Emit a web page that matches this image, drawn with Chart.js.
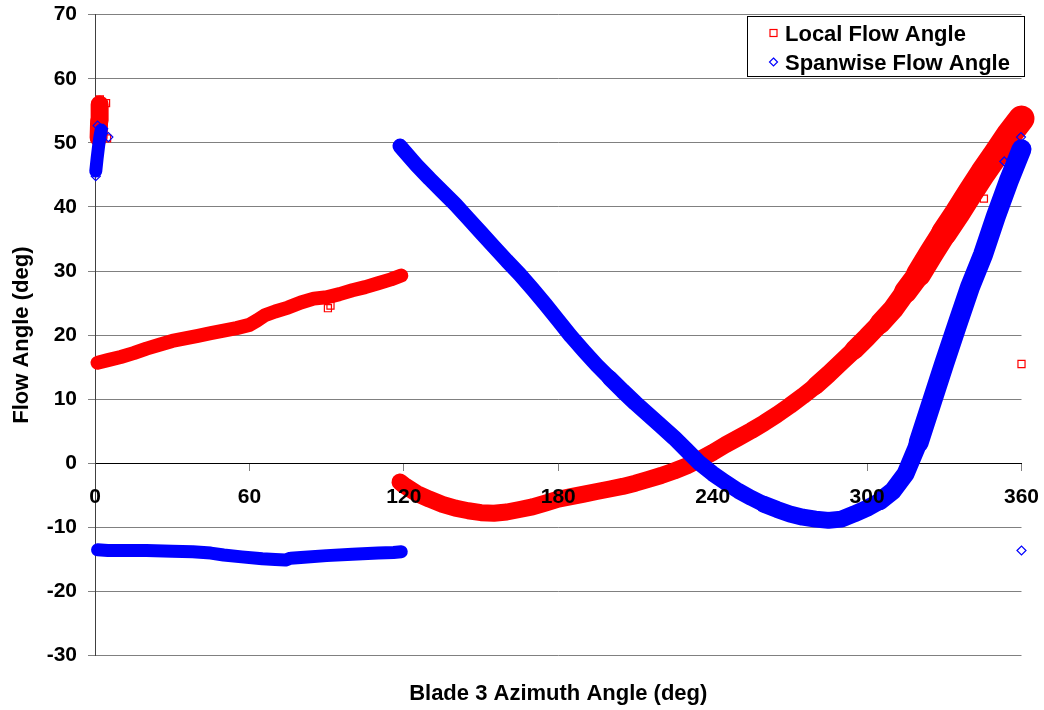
<!DOCTYPE html>
<html>
<head>
<meta charset="utf-8">
<script src="https://cdn.jsdelivr.net/npm/chart.js@4/dist/chart.umd.min.js"></script>
<style>
html,body{margin:0;padding:0;background:#fff;}
#wrap{width:1044px;height:710px;}
</style>
</head>
<body>
<div id="wrap"><canvas id="c" width="1044" height="710"></canvas></div>
<script>
// ---- axis ticks ----
const azimuthTicks = [0, 60, 120, 180, 240, 300, 360];
const angleTicks = [-30, -20, -10, 0, 10, 20, 30, 40, 50, 60, 70];

// ---- Local Flow Angle (deg) ----
const localClusterX = [1.4, 1.6, 1.8];
const localClusterY = [50.8, 53.5, 56.0];
const localRiseX = [1, 5, 10, 15, 20, 25, 30, 35, 40, 45, 50, 55, 60, 63, 66, 70, 75, 80, 85, 90, 95, 100, 105, 110, 115, 119];
const localRiseY = [15.7, 16.1, 16.6, 17.2, 17.9, 18.5, 19.1, 19.5, 19.9, 20.3, 20.7, 21.1, 21.6, 22.3, 23.1, 23.7, 24.3, 25.1, 25.7, 25.9, 26.4, 27.0, 27.5, 28.1, 28.7, 29.3];
const localDipX = [118.5, 120, 125, 130, 135, 140, 145, 150, 155, 160, 165, 170, 175, 180, 185, 190, 195, 200, 205, 210, 215, 220, 225, 230, 235, 240, 245, 250, 255, 260, 265, 270, 275, 280, 285, 290, 295, 300, 305, 310, 315, 320, 325, 330, 335, 340, 345, 350, 355, 360];
const localDipY = [-2.9, -3.4, -4.7, -5.6, -6.4, -7.0, -7.4, -7.7, -7.8, -7.6, -7.2, -6.8, -6.2, -5.6, -5.2, -4.8, -4.4, -4.0, -3.6, -3.1, -2.5, -1.9, -1.2, -0.4, 0.6, 1.7, 2.9, 4.0, 5.1, 6.3, 7.6, 9.0, 10.5, 12.1, 13.9, 15.8, 17.7, 19.7, 21.8, 24.0, 26.8, 29.5, 32.8, 36.0, 39.0, 42.2, 45.3, 48.2, 51.2, 53.8];
const localStrayX = [1.9, 4.3, 4.7, 90.5, 91.5, 345.4, 360];
const localStrayY = [56.8, 56.2, 50.7, 24.2, 24.6, 41.3, 15.5];

// ---- Spanwise Flow Angle (deg) ----
const spanClusterX = [0.3, 0.8, 1.4, 2.0, 2.4];
const spanClusterY = [45.6, 47.5, 49.5, 51.2, 52.0];
const spanFlatX = [1, 5, 10, 20, 30, 38, 45, 50, 57, 65, 70, 74, 76, 80, 90, 100, 110, 116, 119];
const spanFlatY = [-13.5, -13.6, -13.6, -13.6, -13.7, -13.8, -14.0, -14.3, -14.6, -14.9, -15.0, -15.1, -14.8, -14.7, -14.4, -14.2, -14.0, -13.9, -13.8];
const spanFallX = [118.5, 120, 125, 130, 135, 140, 145, 150, 155, 160, 165, 170, 175, 180, 185, 190, 195, 200, 205, 210, 215, 220, 225, 230, 235, 240, 245, 250, 255, 260, 265, 270, 275, 280, 285, 290, 295, 300, 305, 310, 315, 320, 325, 330, 335, 340, 345, 350, 355, 358, 360];
const spanFallY = [49.5, 48.8, 46.5, 44.4, 42.4, 40.4, 38.2, 36.0, 33.8, 31.6, 29.5, 27.2, 24.8, 22.3, 19.8, 17.5, 15.3, 13.3, 11.3, 9.4, 7.6, 5.8, 4.0, 2.0, 0.0, -1.6, -3.0, -4.3, -5.4, -6.4, -7.2, -7.9, -8.4, -8.7, -8.9, -8.7, -7.9, -7.0, -5.9, -4.3, -1.6, 3.2, 9.4, 15.6, 21.6, 27.5, 32.5, 38.5, 44.0, 47.0, 49.0];
const spanStrayX = [1.0, 3.2, 5.2, 0.3, 353.3, 359.8, 360];
const spanStrayY = [52.7, 52.2, 50.9, 44.8, 47.1, 50.9, -13.6];

const RED = '#FF0000';
const BLUE = '#0000FF';
const FONT = '"Liberation Sans", Arial, Helvetica, sans-serif';

function pts(xs, ys) { return xs.map((x, i) => ({x: x, y: ys[i]})); }

// band thickness (px) by azimuth range: [upper bound, width]
function bandWidth(steps) {
  return ctx => {
    const x = ctx.p0.parsed.x;
    for (const s of steps) { if (x < s[0]) return s[1]; }
    return steps[steps.length - 1][1];
  };
}

function band(data, color, width, order, steps) {
  const ds = {
    data: data, showLine: true, borderColor: color, backgroundColor: color,
    borderWidth: width, borderCapStyle: 'round', borderJoinStyle: 'round',
    pointRadius: 0, pointHoverRadius: 0, tension: 0, order: order, clip: false
  };
  if (steps) ds.segment = {borderWidth: bandWidth(steps)};
  return ds;
}

function markers(data, color, style, radius, order) {
  return {
    data: data, showLine: false, borderColor: color, backgroundColor: 'rgba(0,0,0,0)',
    pointStyle: style, pointRadius: radius, pointBorderWidth: 1.2, pointHoverRadius: radius,
    order: order, clip: false
  };
}

const legendPlugin = {
  id: 'boxLegend',
  afterDraw(chart) {
    const ctx = chart.ctx;
    ctx.save();
    ctx.fillStyle = '#fff';
    ctx.fillRect(747, 16, 277, 61);
    ctx.strokeStyle = '#000';
    ctx.lineWidth = 1;
    ctx.strokeRect(747.5, 16.5, 277, 60);
    ctx.strokeStyle = RED; ctx.lineWidth = 1.2;
    ctx.strokeRect(770, 29.5, 7, 7);
    ctx.strokeStyle = BLUE;
    ctx.beginPath();
    ctx.moveTo(773.5, 58); ctx.lineTo(777.5, 62); ctx.lineTo(773.5, 66); ctx.lineTo(769.5, 62); ctx.closePath();
    ctx.stroke();
    ctx.fillStyle = '#000';
    ctx.font = 'bold 22px ' + FONT;
    ctx.textBaseline = 'alphabetic';
    ctx.textAlign = 'left';
    ctx.fillText('Local Flow Angle', 785, 41);
    ctx.fillText('Spanwise Flow Angle', 785, 70);
    ctx.restore();
  }
};

const noPadX = s => { s.paddingLeft = 0; s.paddingRight = 0; };

new Chart(document.getElementById('c'), {
  type: 'scatter',
  data: {
    datasets: [
      band(pts(spanFallX, spanFallY), BLUE, 15, 0, [[200, 15], [260, 16], [305, 17], [318, 18], [1000, 20]]),
      band(pts(spanFlatX, spanFlatY), BLUE, 13, 0),
      band(pts(spanClusterX, spanClusterY), BLUE, 13, 0),
      markers(pts(spanStrayX, spanStrayY), BLUE, 'rectRot', 4.5, 0),
      band(pts(localDipX, localDipY), RED, 17, 1, [[280, 17], [295, 18], [305, 19.5], [312, 21], [320, 23], [330, 25], [1000, 26]]),
      band(pts(localRiseX, localRiseY), RED, 14, 1),
      band(pts(localClusterX, localClusterY), RED, 18, 1),
      markers(pts(localStrayX, localStrayY), RED, 'rect', 5, 1)
    ]
  },
  options: {
    responsive: false,
    animation: false,
    devicePixelRatio: 1,
    events: [],
    layout: {padding: {left: 0, right: 22.5, top: 14.7, bottom: 0}},
    plugins: {legend: {display: false}, tooltip: {enabled: false}},
    scales: {
      x: {
        type: 'linear', min: 0, max: 360,
        position: {y: 0},
        afterBuildTicks: s => { s.ticks = azimuthTicks.map(v => ({value: v})); },
        afterFit: noPadX,
        ticks: {display: false},
        grid: {drawOnChartArea: false, drawTicks: true, tickLength: 7, color: '#808080'},
        border: {display: true, color: '#000', width: 1}
      },
      xLabels: {
        type: 'linear', min: 0, max: 360, axis: 'x',
        position: {y: 0},
        afterBuildTicks: s => { s.ticks = azimuthTicks.map(v => ({value: v})); },
        afterFit: noPadX,
        ticks: {z: 1, color: '#000', font: {family: FONT, size: 21, weight: 'bold'}, padding: 21, maxRotation: 0},
        grid: {display: false, drawTicks: false},
        border: {display: false}
      },
      xTitle: {
        type: 'linear', min: 0, max: 360, position: 'bottom', axis: 'x',
        afterFit: noPadX,
        ticks: {display: false},
        grid: {display: false, drawTicks: false},
        border: {display: false},
        title: {display: true, text: 'Blade 3 Azimuth Angle (deg)', color: '#000',
                font: {family: FONT, size: 22, weight: 'bold'}, padding: {top: 25, bottom: 3}}
      },
      y: {
        type: 'linear', min: -30, max: 70,
        position: 'left',
        afterBuildTicks: s => { s.ticks = angleTicks.map(v => ({value: v})); },
        afterFit: s => { s.width = 95; s.paddingTop = 0; s.paddingBottom = 0; },
        ticks: {color: '#000', font: {family: FONT, size: 21, weight: 'bold'}, padding: 11},
        grid: {color: '#808080', lineWidth: 1, tickLength: 7, drawTicks: true},
        border: {display: true, color: '#404040', width: 1},
        title: {display: true, text: 'Flow Angle (deg)', color: '#000',
                font: {family: FONT, size: 22, weight: 'bold'}, padding: {top: 9, bottom: 0}}
      }
    }
  },
  plugins: [legendPlugin]
});
</script>
</body>
</html>
